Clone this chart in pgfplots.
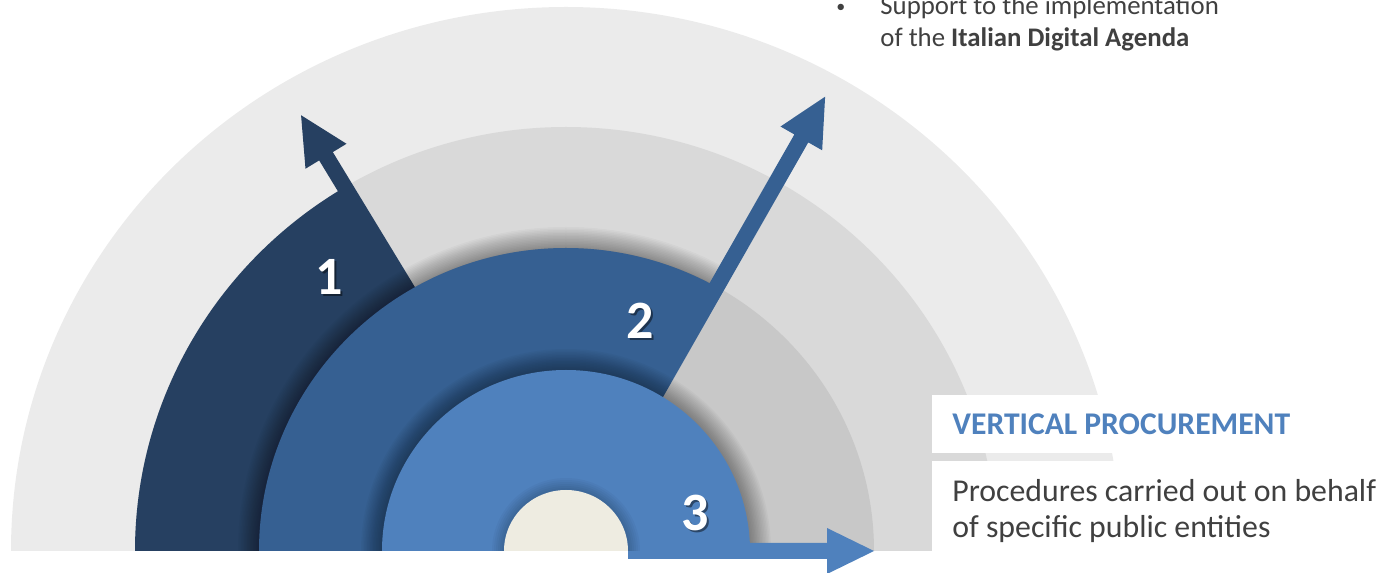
\documentclass[border=0pt]{standalone}
\usepackage{pgfplots}
\pgfplotsset{compat=1.18}
\usetikzlibrary{calc}
\usepackage{fontspec}
\setmainfont{Carlito}
\definecolor{bgA}{HTML}{EBEBEB}
\definecolor{bgB}{HTML}{D9D9D9}
\definecolor{bgC}{HTML}{C8C8C8}
\definecolor{navy}{HTML}{264061}
\definecolor{midblue}{HTML}{366092}
\definecolor{lightblue}{HTML}{4F81BD}
\definecolor{cream}{HTML}{EEECE1}
\definecolor{txt}{HTML}{404040}
\begin{document}
\begin{tikzpicture}
\useasboundingbox (0,0) rectangle (694.5pt,286.5pt);
\clip (0,0) rectangle (694.5pt,286.5pt);
\begin{axis}[at={(0,0)},anchor=south west,scale only axis,
  width=694.5pt,height=286.5pt,xmin=0,xmax=1389,ymin=0,ymax=573,
  hide axis,clip=false]
\begin{scope}[shift={(axis cs:566,22)}]
% background rings
\fill[bgA] (-277.5pt,0) arc[start angle=180,end angle=0,x radius=277.5pt,y radius=272pt] -- cycle;
\fill[bgB] (-215.5pt,0) arc[start angle=180,end angle=0,x radius=215.5pt,y radius=212pt] -- cycle;
\fill[bgC] (-154pt,0) arc[start angle=180,end angle=0,x radius=154pt,y radius=151.5pt] -- cycle;
% ring 1 (navy) with arrow
\fill[navy] (0,0) -- (-215.5pt,0) arc[start angle=180,end angle=121.3,x radius=215.5pt,y radius=212pt] -- cycle;
\begin{scope}[rotate=121.3]
\fill[navy] (100pt,-4pt) -- (231pt,-4pt) -- (231pt,-12pt) -- (255pt,0) -- (231pt,12pt) -- (231pt,4pt) -- (100pt,4pt) -- cycle;
\end{scope}
% shadow of ring 2
\pgfplotsinvokeforeach{10.5,9.75,9,8.25,7.5,6.75,6,5.25,4.5,3.75,3,2.25,1.5,0.75}{
\fill[black,opacity=0.028] (0,0) -- (-153.5pt-#1pt,0) arc[start angle=180,end angle=61.5,x radius=153.5pt+#1pt,y radius=151.5pt+#1pt] -- cycle;
}
% ring 2 (mid blue) with arrow
\fill[midblue] (0,0) -- (-153.5pt,0) arc[start angle=180,end angle=60.3,x radius=153.5pt,y radius=151.5pt] -- cycle;
\begin{scope}[rotate=60.3]
\fill[midblue] (60pt,-4pt) -- (237.5pt,-4pt) -- (237.5pt,-12pt) -- (261.5pt,0) -- (237.5pt,12pt) -- (237.5pt,4pt) -- (60pt,4pt) -- cycle;
\end{scope}
% shadow of ring 3
\pgfplotsinvokeforeach{10.5,9.75,9,8.25,7.5,6.75,6,5.25,4.5,3.75,3,2.25,1.5,0.75}{
\fill[black,opacity=0.028] (-92pt-#1pt,0) arc[start angle=180,end angle=0,x radius=92pt+#1pt,y radius=90.5pt+#1pt] -- cycle;
}
% ring 3 (light blue) with arrow
\fill[lightblue] (-92pt,0) arc[start angle=180,end angle=0,x radius=92pt,y radius=90.5pt] -- cycle;
\fill[lightblue] (31pt,-4pt) -- (130.5pt,-4pt) -- (130.5pt,-11.5pt) -- (154pt,0) -- (130.5pt,11.5pt) -- (130.5pt,4pt) -- (31pt,4pt) -- cycle;
% shadow and core
\pgfplotsinvokeforeach{6,5,4,3,2,1}{
\fill[black,opacity=0.03] (-31pt-#1pt,0) arc[start angle=180,end angle=0,x radius=31pt+#1pt,y radius=30.5pt+#1pt] -- cycle;
}
\fill[cream] (-31pt,0) arc[start angle=180,end angle=0,x radius=31pt,y radius=30.5pt] -- cycle;
\end{scope}
% numbers
\begin{scope}[every node/.style={font=\fontsize{27pt}{27pt}\selectfont\bfseries}]
\node[black,opacity=0.45] at ($(axis cs:329,296)+(0.9pt,-0.9pt)$) {1};
\node[white] at (axis cs:329,296) {1};
\node[black,opacity=0.45] at ($(axis cs:640,252)+(0.9pt,-0.9pt)$) {2};
\node[white] at (axis cs:640,252) {2};
\node[black,opacity=0.45] at ($(axis cs:695,60)+(0.9pt,-0.9pt)$) {3};
\node[white] at (axis cs:695,60) {3};
\end{scope}
% right boxes
\fill[white] (axis cs:932,120) rectangle (axis cs:1389,178);
\fill[white] (axis cs:932,-1) rectangle (axis cs:1389,112);
\node[anchor=base west,inner sep=0pt,text=lightblue,font=\fontsize{15.8pt}{15.8pt}\selectfont\bfseries] at (axis cs:952,138) {VERTICAL PROCUREMENT};
\node[anchor=base west,inner sep=0pt,text=txt,font=\fontsize{15.9pt}{15.9pt}\selectfont] at (axis cs:952,71) {Procedures carried out on behalf};
\node[anchor=base west,inner sep=0pt,text=txt,font=\fontsize{15.9pt}{15.9pt}\selectfont] at (axis cs:952,35) {of specific public entities};
% top text
\node[anchor=base west,inner sep=0pt,text=txt,font=\fontsize{9pt}{9pt}\selectfont] at (axis cs:836,560) {•};
\node[anchor=base west,inner sep=0pt,text=txt,font=\fontsize{13.4pt}{13.4pt}\selectfont] at (axis cs:880,558) {Support to the implementation};
\node[anchor=base west,inner sep=0pt,text=txt,font=\fontsize{13.4pt}{13.4pt}\selectfont] at (axis cs:880,526) {of the \textbf{Italian Digital Agenda}};
\end{axis}
\end{tikzpicture}
\end{document}
